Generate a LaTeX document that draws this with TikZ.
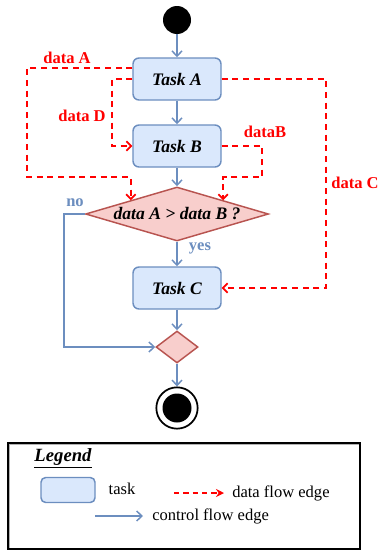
\documentclass[tikz,border=0pt]{standalone}
\usepackage{fontspec}
\setmainfont{Liberation Serif}
\usetikzlibrary{arrows.meta,shapes.geometric}
\definecolor{taskfill}{HTML}{DAE8FC}
\definecolor{taskline}{HTML}{6C8EBF}
\definecolor{decfill}{HTML}{F8CECC}
\definecolor{decline}{HTML}{B85450}
\definecolor{dataline}{HTML}{FF0000}
\begin{document}
\begin{tikzpicture}[x=0.75pt,y=-0.75pt,
  every node/.style={font=\fontsize{12.4}{14}\selectfont},
  taskbox/.style={draw=taskline,fill=taskfill,line width=1.1pt,rounded corners=4.5pt,
    minimum width=66pt,minimum height=31.5pt,inner sep=0pt,font=\fontsize{13.2}{15}\selectfont\bfseries\itshape},
  decbox/.style={draw=decline,fill=decfill,line width=1.1pt,diamond,inner sep=0pt,aspect=3.4,
    minimum width=137.25pt,minimum height=40.5pt,font=\fontsize{13.2}{15}\selectfont\bfseries\itshape},
  mergebox/.style={draw=decline,fill=decfill,line width=1.1pt,diamond,inner sep=0pt,
    minimum width=31.5pt,minimum height=24pt},
  ctrl/.style={draw=taskline,line width=1.1pt,-{Straight Barb[length=4pt,width=7.5pt]}},
  dataflow/.style={draw=dataline,line width=1.3pt,dash pattern=on 4.5pt off 3.5pt,
    -{Straight Barb[length=3.5pt,width=7pt]}},
  datalabel/.style={text=dataline,font=\fontsize{12.4}{14}\selectfont\bfseries},
  ctrllabel/.style={text=taskline,font=\fontsize{12.4}{14}\selectfont\bfseries},
]
\useasboundingbox (0,0) rectangle (379,550);

% nodes
\node[circle,fill=black,minimum size=21pt,inner sep=0pt] (start) at (177,20) {};
\node[taskbox] (A) at (177,79) {Task A};
\node[taskbox] (B) at (177,146) {Task B};
\node[decbox] (dec) at (177,214) {data A > data B ?};
\node[taskbox] (C) at (177,288) {Task C};
\node[mergebox] (merge) at (177,347) {};
\node[circle,draw=black,line width=1.3pt,minimum size=31pt,inner sep=0pt] (end) at (177,408) {};
\node[circle,fill=black,minimum size=21.75pt,inner sep=0pt] (endin) at (177,408) {};

% control flow
\draw[ctrl] (start) -- (A);
\draw[ctrl] (A) -- (B);
\draw[ctrl] (B) -- (dec);
\draw[ctrl] (dec) -- (C);
\draw[ctrl] (C) -- (merge);
\draw[ctrl] (merge) -- (end);
\coordinate (nocorner) at (64,347);
\draw[ctrl] (dec.west) -| (nocorner) -- (merge.west);
\node[ctrllabel] (nolab) at (75,203) {no};
\node[ctrllabel] (yeslab) at (200,248) {yes};

% data flow
\coordinate (dA1) at (27,177);
\coordinate (dD1) at (112,146);
\coordinate (dB1) at (262,177);
\coordinate (dC1) at (326,288);
\draw[dataflow] ([yshift=8.25pt]A.west) -| (dA1) -| (dec.north west);
\draw[dataflow] (A.west) -| (dD1) -- (B.west);
\draw[dataflow] (B.east) -| (dB1) -| (dec.north east);
\draw[dataflow] (A.east) -| (dC1) -- (C.east);
\node[datalabel] (lA) at (67,58) {data A};
\node[datalabel] (lD) at (82,116) {data D};
\node[datalabel] (lB) at (265,132) {dataB};
\node[datalabel] (lC) at (355,183) {data C};

% legend
\draw[gray!60,line width=1.2pt] (9,444) rectangle (360.5,549.5);
\node[draw=black,line width=1.3pt,minimum width=264pt,minimum height=79.5pt,inner sep=0pt,anchor=north west] (legend) at (7,442) {};
\node[font=\fontsize{14}{16}\selectfont\bfseries\itshape] (legtitle) at (63,458) {\underline{Legend}};
\node[taskbox,minimum width=40.5pt,minimum height=18.75pt,rounded corners=3.5pt] (legtask) at (68,490) {};
\node (legtasklab) at (122,489) {task};
\coordinate (ldA) at (174,493);
\coordinate (ldB) at (224,493);
\draw[draw=dataline,line width=1.3pt,dash pattern=on 4pt off 3pt,-{Stealth[length=6pt,width=6pt]}] (ldA) -- (ldB);
\node[anchor=west,inner sep=0pt] (ldlab) at (232,493) {data flow edge};
\coordinate (lcA) at (95,516);
\coordinate (lcB) at (143,516);
\draw[ctrl] (lcA) -- (lcB);
\node[anchor=west,inner sep=0pt] (lclab) at (152,516) {control flow edge};
\end{tikzpicture}
\end{document}
